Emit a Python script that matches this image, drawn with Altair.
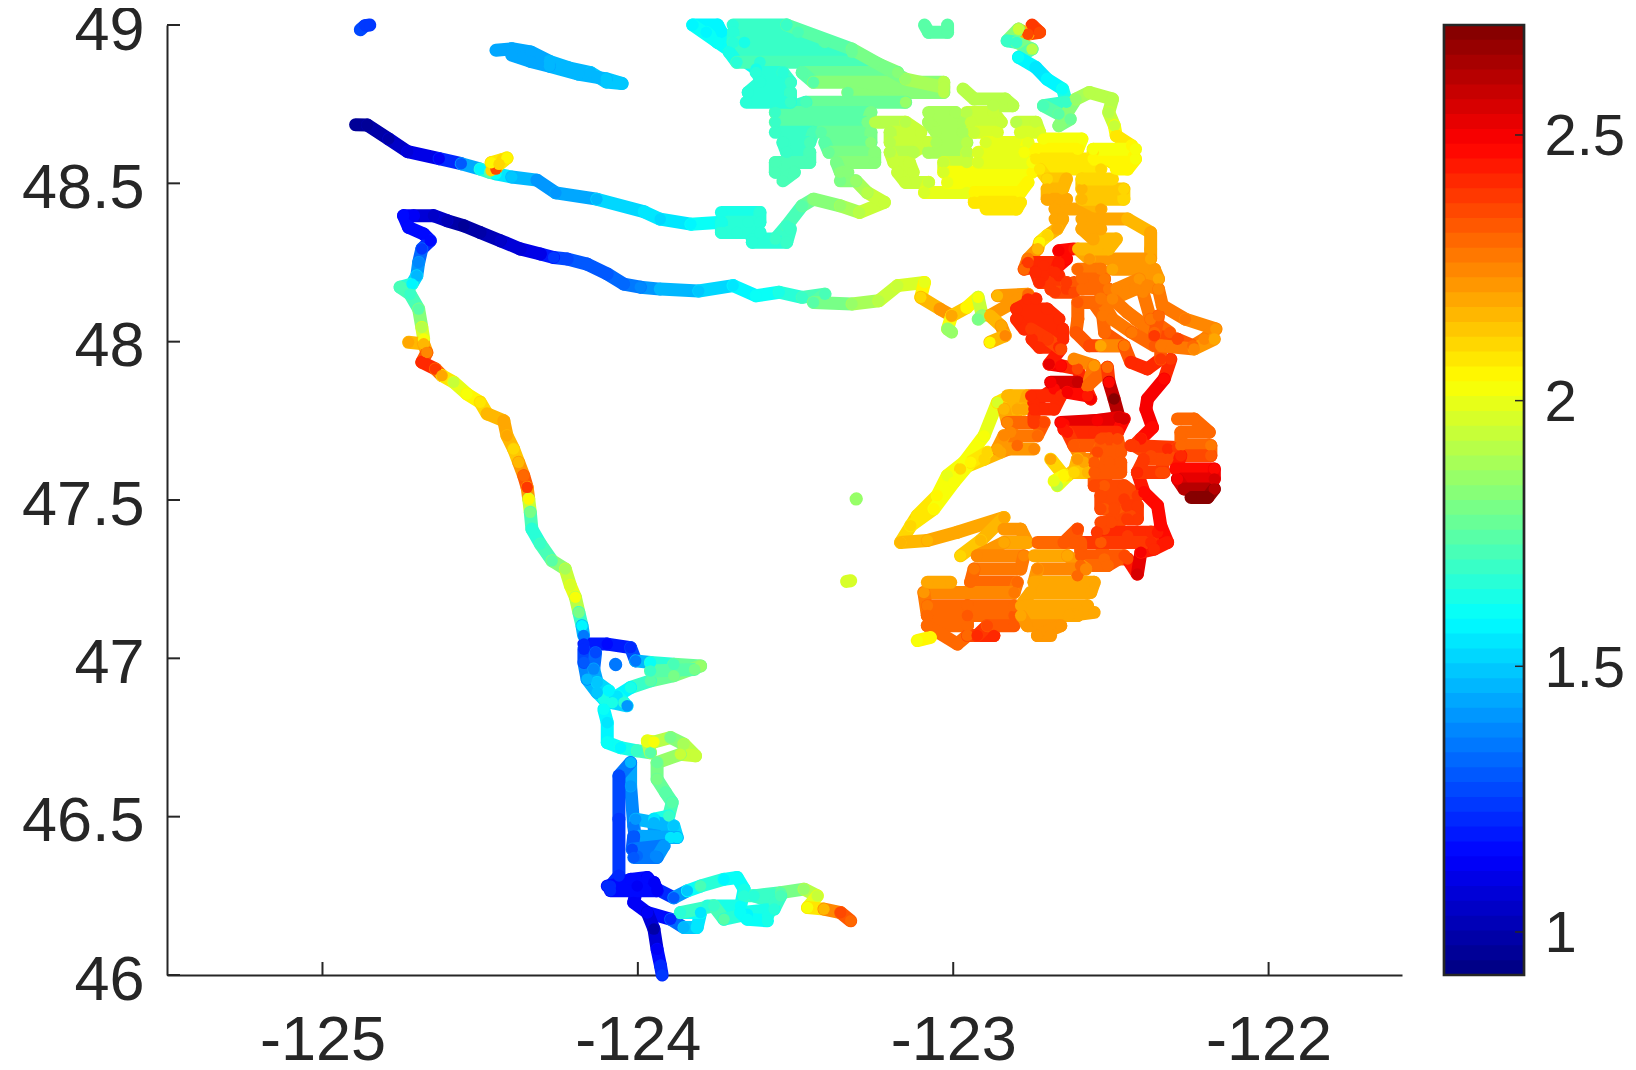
import altair as alt
import pandas as pd

# (longitude, latitude, value)
dot_nw = [(-124.88,48.985,1.27),(-124.865,48.998,1.25),(-124.85,49.0,1.25)]
fraser = [(-124.45,48.92,1.43),(-124.40,48.925,1.44),(-124.34,48.915,1.44),(-124.28,48.885,1.45),(-124.22,48.865,1.45),(-124.15,48.85,1.47),(-124.10,48.82,1.5),(-124.05,48.815,1.5),(-124.10,48.83,1.48),(-124.19,48.845,1.46),(-124.28,48.87,1.45),(-124.34,48.885,1.44),(-124.40,48.905,1.43)]
strait_n = [(-124.895,48.685,0.96),(-124.858,48.684,0.96),(-124.79,48.64,1.0),(-124.73,48.60,1.08),(-124.63,48.578,1.13),(-124.56,48.562,1.3),(-124.50,48.545,1.58),(-124.47,48.535,1.75),(-124.45,48.53,1.6),(-124.40,48.52,1.5),(-124.32,48.51,1.42),(-124.26,48.47,1.42),(-124.13,48.45,1.47),(-123.98,48.41,1.55),(-123.93,48.387,1.56)]
strait_n_blob = [(-124.465,48.54,2.1),(-124.45,48.545,2.35),(-124.465,48.565,2.05),(-124.43,48.575,2.1),(-124.415,48.58,2.05),(-124.44,48.56,2.1)]
strait_n2 = [(-123.929,48.387,1.52),(-123.832,48.371,1.58),(-123.735,48.377,1.62),(-123.686,48.345,1.65),(-123.65,48.377,1.65),(-123.637,48.324,1.66),(-123.564,48.324,1.68),(-123.528,48.366,1.7),(-123.479,48.429,1.75),(-123.443,48.45,1.82),(-123.358,48.429,1.85),(-123.297,48.408,1.9),(-123.218,48.44,1.95),(-123.273,48.471,1.92),(-123.309,48.508,1.85),(-123.358,48.508,1.8)]
strait_n3 = [(-123.735,48.408,1.64),(-123.613,48.408,1.65),(-123.613,48.377,1.66),(-123.735,48.377,1.64),(-123.735,48.345,1.65),(-123.613,48.345,1.66),(-123.637,48.314,1.66),(-123.528,48.314,1.68),(-123.516,48.356,1.7)]
strait_s = [(-123.929,48.166,1.45),(-123.992,48.172,1.38),(-124.045,48.182,1.33),(-124.097,48.214,1.3),(-124.161,48.245,1.3),(-124.224,48.261,1.28),(-124.267,48.266,1.25),(-124.309,48.277,1.1),(-124.373,48.293,1.08),(-124.436,48.319,1.05),(-124.5,48.345,1.0),(-124.552,48.366,0.95),(-124.605,48.382,1.02),(-124.648,48.398,1.05),(-124.711,48.398,1.12),(-124.743,48.398,1.15),(-124.727,48.361,1.15),(-124.679,48.34,1.15),(-124.658,48.319,1.15),(-124.685,48.293,1.25),(-124.695,48.25,1.38),(-124.701,48.208,1.45),(-124.716,48.182,1.58),(-124.754,48.172,1.72),(-124.722,48.15,1.7),(-124.695,48.103,1.75),(-124.685,48.045,1.9),(-124.679,48.008,2.02)]
coast = [(-124.727,47.998,2.18),(-124.679,47.993,2.15),(-124.669,47.966,2.25),(-124.685,47.935,2.42),(-124.642,47.914,2.38),(-124.621,47.893,2.2),(-124.584,47.872,1.95),(-124.542,47.835,2.03),(-124.5,47.809,2.08),(-124.478,47.772,2.15),(-124.425,47.75,2.18),(-124.415,47.703,2.18),(-124.394,47.661,2.12),(-124.378,47.619,2.15),(-124.362,47.577,2.3),(-124.351,47.54,2.38),(-124.346,47.503,2.05),(-124.341,47.461,1.8),(-124.336,47.408,1.65),(-124.309,47.361,1.68),(-124.272,47.308,1.75),(-124.23,47.282,1.88),(-124.214,47.23,1.98),(-124.198,47.193,2.02),(-124.187,47.145,1.8),(-124.177,47.103,1.58),(-124.172,47.072,1.35)]
grays = [(-124.171,47.045,1.22),(-124.097,47.045,1.15),(-124.023,47.034,1.2),(-124.007,46.992,1.35),(-123.96,46.987,1.6),(-123.886,46.981,1.72),(-123.801,46.976,1.85),(-123.886,46.945,1.8),(-123.96,46.929,1.75),(-124.023,46.908,1.62),(-124.066,46.881,1.55),(-124.044,46.86,1.65),(-124.108,46.871,1.62),(-124.129,46.892,1.5),(-124.161,46.934,1.45),(-124.171,46.987,1.3),(-124.171,47.029,1.22)]
grays_beak = [(-123.96,46.96,1.68),(-123.82,46.965,1.8)]
grays_fill = [(-124.134,47.018,1.28),(-124.14,46.966,1.38),(-124.129,46.924,1.48),(-124.092,46.897,1.58),(-124.081,46.86,1.62),(-124.034,46.85,1.4)]
grays_dot = [(-124.071,46.981,1.35),(-124.07,46.98,1.35)]
willapa = [(-124.108,46.839,1.6),(-124.097,46.797,1.55),(-124.097,46.734,1.6),(-124.055,46.718,1.58),(-124.002,46.708,1.7),(-123.96,46.702,1.75),(-123.97,46.739,2.0),(-123.949,46.736,2.02),(-123.896,46.75,1.8),(-123.854,46.729,1.88),(-123.817,46.692,1.95),(-123.865,46.697,1.93),(-123.939,46.671,1.78),(-123.939,46.618,1.8),(-123.912,46.576,1.75),(-123.891,46.545,1.75),(-123.902,46.502,1.7),(-123.949,46.492,1.55),(-123.896,46.434,1.55),(-123.949,46.481,1.45),(-123.944,46.376,1.38),(-124.002,46.376,1.32),(-124.013,46.471,1.35),(-124.023,46.597,1.4),(-124.023,46.671,1.45),(-124.06,46.629,1.28),(-124.06,46.492,1.25),(-124.06,46.313,1.22),(-124.087,46.281,1.2),(-124.023,46.302,1.15),(-123.97,46.308,1.15),(-123.939,46.271,1.12),(-123.886,46.244,1.3),(-123.843,46.266,1.5),(-123.801,46.281,1.72),(-123.727,46.302,1.58),(-123.685,46.308,1.6),(-123.663,46.271,1.62),(-123.674,46.218,1.6),(-123.78,46.218,1.65)]
willapa_fill = [(-124.007,46.492,1.42),(-123.886,46.471,1.5),(-123.875,46.434,1.55),(-124.013,46.439,1.3),(-124.018,46.397,1.28),(-123.917,46.408,1.42),(-123.939,46.371,1.38),(-124.013,46.371,1.3)]
columbia = [(-124.002,46.281,1.12),(-124.013,46.229,1.12),(-123.97,46.197,1.12),(-123.896,46.176,1.2),(-123.854,46.15,1.45),(-123.812,46.15,1.55),(-123.801,46.197,1.55),(-123.865,46.197,1.65),(-123.759,46.218,1.7),(-123.727,46.176,1.75),(-123.653,46.192,1.58),(-123.589,46.187,1.62),(-123.568,46.229,1.7),(-123.632,46.25,1.66),(-123.547,46.26,1.75),(-123.473,46.271,1.85),(-123.431,46.25,1.95),(-123.462,46.213,2.02),(-123.41,46.208,2.15),(-123.357,46.197,2.35),(-123.325,46.171,2.3)]
columbia_fill = [(-124.097,46.281,1.2),(-123.949,46.292,1.12),(-123.939,46.266,1.12),(-124.087,46.266,1.2)]
columbia_fill2 = [(-123.663,46.25,1.65),(-123.547,46.25,1.72),(-123.568,46.208,1.66),(-123.674,46.197,1.6),(-123.653,46.176,1.6),(-123.589,46.171,1.62)]
columbia_mouth = [(-123.97,46.197,1.12),(-123.949,46.145,1.0),(-123.939,46.081,1.12),(-123.928,46.029,1.2),(-123.923,46.0,1.25)]
dots_mid = [(-123.308,47.503,1.85),(-123.307,47.504,1.85)]
dots_mid2 = [(-123.338,47.243,1.98),(-123.325,47.245,1.98)]
top_small = [(-123.091,49.0,1.75),(-123.078,48.977,1.75),(-123.018,48.977,1.75),(-123.018,49.0,1.75)]

georgia_a = [(-123.698,49.0,1.67),(-123.528,49.0,1.7),(-123.492,48.977,1.71),(-123.698,48.977,1.66),(-123.698,48.945,1.66),(-123.407,48.945,1.73),(-123.321,48.914,1.76),(-123.71,48.914,1.64),(-123.686,48.882,1.65),(-123.249,48.882,1.8),(-123.176,48.85,1.84),(-123.479,48.85,1.73),(-123.443,48.819,1.75),(-123.03,48.819,1.9),(-123.03,48.787,1.9),(-123.334,48.787,1.78),(-123.151,48.756,1.86),(-123.467,48.756,1.71),(-123.564,48.724,1.68),(-123.261,48.724,1.79),(-123.273,48.693,1.8),(-123.564,48.693,1.69)]
georgia_edge = [(-123.528,49.0,1.7),(-123.321,48.924,1.76),(-123.151,48.829,1.86),(-123.03,48.803,1.9)]
georgia_edge2 = [(-123.826,49.0,1.58),(-123.625,48.861,1.64),(-123.613,48.829,1.66)]
georgia_b = [(-123.625,48.85,1.65),(-123.54,48.85,1.67),(-123.516,48.819,1.68),(-123.613,48.819,1.66),(-123.65,48.787,1.66),(-123.516,48.787,1.68),(-123.516,48.756,1.68),(-123.656,48.756,1.66)]
georgia_c = [(-123.826,49.0,1.58),(-123.747,49.0,1.58),(-123.735,48.977,1.58),(-123.783,48.977,1.58),(-123.747,48.945,1.6),(-123.662,48.945,1.62),(-123.613,48.882,1.65)]
georgia_d = [(-123.564,48.661,1.69),(-123.443,48.661,1.71),(-123.455,48.629,1.71),(-123.54,48.629,1.69),(-123.528,48.598,1.69),(-123.455,48.598,1.71),(-123.455,48.566,1.71),(-123.564,48.566,1.71),(-123.564,48.535,1.71),(-123.504,48.535,1.71),(-123.54,48.508,1.71)]
georgia_e = [(-123.419,48.661,1.74),(-123.261,48.661,1.8),(-123.261,48.629,1.82),(-123.407,48.629,1.74),(-123.394,48.598,1.77),(-123.249,48.598,1.83),(-123.249,48.566,1.83),(-123.37,48.566,1.8),(-123.358,48.535,1.82),(-123.334,48.535,1.82)]

juan_a = [(-123.249,48.693,1.9),(-123.151,48.693,1.92),(-123.103,48.661,1.93),(-123.2,48.661,1.92),(-123.2,48.629,1.92),(-123.078,48.629,1.93),(-123.127,48.598,1.92),(-123.2,48.598,1.92),(-123.188,48.566,1.93),(-123.139,48.566,1.93),(-123.127,48.535,1.93),(-123.176,48.535,1.93),(-123.151,48.503,1.95),(-123.078,48.503,1.95),(-123.091,48.471,1.98),(-122.957,48.471,2.0)]
juan_b = [(-123.078,48.724,1.88),(-122.993,48.724,1.88),(-122.969,48.693,1.88),(-123.078,48.693,1.87),(-123.054,48.661,1.87),(-122.969,48.661,1.88),(-122.957,48.629,1.9),(-123.054,48.629,1.87),(-123.078,48.598,1.87),(-122.957,48.598,1.9),(-122.957,48.566,1.95),(-123.03,48.566,1.93),(-123.03,48.535,1.98),(-122.75,48.535,2.04),(-122.75,48.566,2.03),(-122.921,48.566,1.98)]
juan_c = [(-122.957,48.724,1.92),(-122.872,48.724,1.93),(-122.848,48.693,1.93),(-122.945,48.693,1.93),(-122.933,48.661,1.95),(-122.86,48.661,1.97)]
juan_d = [(-122.896,48.629,1.98),(-122.763,48.629,2.0),(-122.775,48.598,2.02),(-122.921,48.598,1.97)]
juan_e = [(-122.799,48.693,1.92),(-122.738,48.693,1.93),(-122.726,48.661,1.97),(-122.787,48.661,1.98)]
juan_f = [(-123.018,48.503,2.0),(-122.763,48.503,2.05),(-122.787,48.471,2.06),(-122.933,48.471,2.05),(-122.933,48.44,2.07),(-122.787,48.44,2.07),(-122.799,48.419,2.07),(-122.896,48.419,2.07)]
juan_g = [(-122.969,48.798,1.92),(-122.933,48.766,1.92),(-122.835,48.766,1.92),(-122.811,48.745,1.9),(-122.872,48.745,1.92)]

skagit = [(-122.75,49.0,2.38),(-122.735,48.985,2.38),(-122.726,48.977,2.36),(-122.763,48.971,2.35),(-122.793,48.987,1.95),(-122.829,48.95,1.68),(-122.799,48.945,1.7),(-122.75,48.924,1.9),(-122.793,48.898,1.6),(-122.738,48.866,1.55),(-122.702,48.829,1.57),(-122.653,48.798,1.6),(-122.641,48.756,1.68),(-122.714,48.745,1.72),(-122.665,48.719,1.75),(-122.629,48.703,1.78),(-122.665,48.682,1.82),(-122.611,48.766,1.85),(-122.568,48.787,1.9),(-122.495,48.766,1.92),(-122.507,48.724,1.92),(-122.489,48.682,1.95),(-122.483,48.65,2.08),(-122.434,48.619,2.05),(-122.428,48.587,2.05),(-122.495,48.566,2.05),(-122.556,48.598,2.08)]
bays_a = [(-122.714,48.64,2.02),(-122.592,48.64,2.02),(-122.605,48.608,2.05),(-122.738,48.608,2.04),(-122.738,48.577,2.07),(-122.568,48.577,2.08),(-122.532,48.545,2.1),(-122.726,48.545,2.08),(-122.702,48.514,2.12),(-122.641,48.514,2.15),(-122.653,48.482,2.17),(-122.702,48.482,2.17),(-122.702,48.45,2.18),(-122.641,48.45,2.18),(-122.677,48.419,2.2),(-122.532,48.419,2.2),(-122.592,48.45,2.15),(-122.459,48.45,2.12),(-122.459,48.482,2.12),(-122.592,48.482,2.15),(-122.592,48.514,2.12),(-122.495,48.514,2.1)]
bays_b = [(-122.483,48.545,2.05),(-122.447,48.545,2.05),(-122.422,48.577,2.03),(-122.556,48.577,2.05),(-122.556,48.608,2.03),(-122.422,48.608,2.03)]
bays_c = [(-122.677,48.387,2.2),(-122.653,48.387,2.2),(-122.671,48.356,2.2),(-122.702,48.335,2.1),(-122.726,48.314,2.05),(-122.732,48.293,2.15),(-122.763,48.261,2.27),(-122.775,48.229,2.3),(-122.714,48.24,2.42),(-122.665,48.24,2.45),(-122.641,48.261,2.48),(-122.665,48.287,2.5),(-122.617,48.293,2.45)]
bays_c2 = [(-122.714,48.208,2.4),(-122.665,48.208,2.4),(-122.69,48.166,2.38),(-122.641,48.166,2.38),(-122.617,48.187,2.33)]
bays_c3 = [(-122.763,48.25,2.38),(-122.665,48.25,2.44),(-122.677,48.219,2.42),(-122.738,48.219,2.4),(-122.726,48.187,2.4),(-122.641,48.187,2.38),(-122.617,48.156,2.36),(-122.677,48.156,2.38)]
bays_d = [(-122.592,48.387,2.2),(-122.447,48.387,2.17),(-122.374,48.345,2.18),(-122.374,48.293,2.18),(-122.374,48.261,2.2),(-122.568,48.261,2.22),(-122.605,48.293,2.15),(-122.507,48.293,2.17),(-122.483,48.324,2.17),(-122.556,48.324,2.18),(-122.592,48.356,2.18),(-122.532,48.356,2.18)]
bays_e = [(-122.605,48.229,2.3),(-122.532,48.229,2.27),(-122.52,48.198,2.28),(-122.592,48.198,2.3),(-122.592,48.166,2.3),(-122.507,48.166,2.28),(-122.544,48.124,2.3),(-122.605,48.124,2.32),(-122.605,48.071,2.3),(-122.611,48.029,2.32),(-122.568,47.987,2.35),(-122.459,47.987,2.38),(-122.52,48.029,2.3),(-122.526,48.082,2.28),(-122.556,48.124,2.3)]
bays_f = [(-122.495,48.229,2.2),(-122.362,48.229,2.22),(-122.349,48.198,2.2),(-122.41,48.198,2.22),(-122.483,48.166,2.25),(-122.422,48.166,2.25),(-122.495,48.135,2.25),(-122.447,48.092,2.27),(-122.362,48.029,2.3),(-122.422,48.071,2.27)]
bays_f2 = [(-122.532,48.135,2.27),(-122.495,48.071,2.28),(-122.434,48.029,2.28),(-122.362,47.987,2.33)]
bays_f3 = [(-122.398,48.156,2.25),(-122.374,48.071,2.28),(-122.313,48.029,2.32)]
bays_g = [(-122.386,48.177,2.25),(-122.349,48.166,2.25),(-122.337,48.114,2.27),(-122.264,48.071,2.28),(-122.167,48.04,2.22),(-122.204,48.008,2.25),(-122.24,47.987,2.3),(-122.289,48.008,2.35),(-122.362,48.019,2.38),(-122.349,48.082,2.3)]

sound_w = [(-123.929,48.166,1.45),(-123.807,48.16,1.5),(-123.698,48.177,1.56),(-123.625,48.145,1.6),(-123.552,48.156,1.63),(-123.479,48.14,1.7),(-123.407,48.15,1.72),(-123.443,48.124,1.75),(-123.321,48.119,1.85),(-123.236,48.129,1.9),(-123.176,48.177,1.95),(-123.091,48.187,2.0),(-123.103,48.14,2.1),(-123.042,48.103,2.22),(-123.005,48.082,2.2),(-123.018,48.04,1.85),(-123.005,48.03,1.85)]
sound_w2 = [(-123.005,48.082,2.2),(-122.957,48.108,2.05),(-122.921,48.14,2.03),(-122.908,48.082,1.85),(-122.921,48.071,1.8)]
sound_w3 = [(-122.86,48.145,2.15),(-122.763,48.15,2.3),(-122.884,48.082,2.15),(-122.848,48.05,2.2),(-122.835,48.019,2.25),(-122.884,47.998,2.05)]
sound_red = [(-122.763,48.135,2.4),(-122.738,48.135,2.42),(-122.799,48.103,2.4),(-122.702,48.103,2.42),(-122.665,48.071,2.42),(-122.799,48.071,2.4),(-122.775,48.04,2.42),(-122.653,48.04,2.42),(-122.653,48.008,2.42),(-122.75,48.008,2.42),(-122.726,47.982,2.42),(-122.665,47.982,2.42)]

hood = [(-123.167,47.366,2.12),(-123.114,47.451,2.08),(-123.051,47.514,2.05),(-123.019,47.577,2.0),(-122.966,47.619,2.02),(-122.902,47.703,2.02),(-122.86,47.808,1.98),(-122.818,47.829,2.15),(-122.797,47.787,2.2),(-122.818,47.714,2.25),(-122.797,47.672,2.3),(-122.85,47.651,2.2),(-122.902,47.629,2.1),(-122.977,47.598,2.1)]
hood2 = [(-123.135,47.419,2.1),(-123.061,47.472,2.05),(-122.998,47.556,2.02),(-122.945,47.619,2.05),(-122.892,47.651,2.1)]
hood_fill = [(-122.828,47.829,2.15),(-122.765,47.829,2.2),(-122.776,47.787,2.2),(-122.839,47.787,2.15),(-122.828,47.745,2.25),(-122.712,47.745,2.35),(-122.733,47.703,2.3),(-122.839,47.703,2.25),(-122.86,47.661,2.18),(-122.744,47.661,2.25)]
hood_red = [(-122.744,47.745,2.38),(-122.744,47.808,2.4),(-122.68,47.851,2.47),(-122.617,47.872,2.55),(-122.564,47.819,2.5),(-122.606,47.914,2.35),(-122.659,47.924,2.47),(-122.696,47.929,2.52),(-122.659,47.977,2.35),(-122.701,48.008,2.38),(-122.754,48.04,2.38)]
hood_red2 = [(-122.754,47.829,2.42),(-122.659,47.829,2.42),(-122.68,47.787,2.42),(-122.744,47.787,2.42)]
hood_red3 = [(-122.691,47.872,2.5),(-122.606,47.872,2.58),(-122.638,47.84,2.5),(-122.574,47.829,2.45)]
kitsap = [(-122.617,47.945,2.25),(-122.553,47.924,2.22),(-122.574,47.861,2.3),(-122.511,47.919,2.3),(-122.506,47.872,2.48),(-122.49,47.819,2.68),(-122.474,47.761,2.55),(-122.543,47.751,2.5),(-122.649,47.74,2.48),(-122.649,47.724,2.45),(-122.553,47.714,2.42),(-122.617,47.672,2.3),(-122.585,47.619,2.2),(-122.638,47.577,2.08),(-122.67,47.545,1.92)]
kitsap2 = [(-122.691,47.629,2.18),(-122.649,47.577,2.05),(-122.68,47.56,2.0)]
kitsap_fill = [(-122.659,47.745,2.48),(-122.458,47.756,2.55),(-122.479,47.714,2.4),(-122.638,47.714,2.45),(-122.617,47.672,2.33),(-122.532,47.672,2.33),(-122.553,47.629,2.25),(-122.606,47.629,2.22),(-122.617,47.587,2.12),(-122.574,47.587,2.15)]
main_ch = [(-122.506,47.693,2.35),(-122.506,47.619,2.32),(-122.521,47.545,2.33),(-122.458,47.503,2.38),(-122.521,47.472,2.33),(-122.437,47.451,2.35),(-122.521,47.408,2.35),(-122.447,47.387,2.38),(-122.373,47.398,2.42),(-122.532,47.366,2.32),(-122.521,47.314,2.3),(-122.447,47.314,2.35),(-122.416,47.266,2.55),(-122.405,47.335,2.5),(-122.363,47.345,2.4)]
main_fill = [(-122.532,47.693,2.35),(-122.479,47.693,2.35),(-122.469,47.651,2.33),(-122.543,47.651,2.35),(-122.553,47.619,2.33),(-122.469,47.619,2.33),(-122.469,47.587,2.33),(-122.553,47.587,2.33),(-122.553,47.545,2.35),(-122.458,47.545,2.35),(-122.416,47.514,2.38),(-122.532,47.514,2.35),(-122.532,47.472,2.35),(-122.49,47.472,2.35),(-122.5,47.429,2.35),(-122.532,47.429,2.35)]
main_fill2 = [(-122.447,47.482,2.38),(-122.416,47.482,2.38),(-122.416,47.44,2.38),(-122.447,47.44,2.38)]
main_fill3 = [(-122.543,47.398,2.38),(-122.352,47.398,2.43),(-122.373,47.366,2.42),(-122.596,47.366,2.33),(-122.596,47.324,2.33),(-122.458,47.324,2.35),(-122.511,47.293,2.3),(-122.596,47.293,2.3),(-122.606,47.261,2.3)]
east_ch = [(-122.31,47.945,2.38),(-122.331,47.882,2.47),(-122.384,47.819,2.5),(-122.389,47.787,2.5),(-122.368,47.729,2.48),(-122.405,47.693,2.45),(-122.426,47.672,2.38),(-122.373,47.64,2.35),(-122.32,47.661,2.4),(-122.342,47.587,2.35),(-122.416,47.587,2.42),(-122.395,47.524,2.48),(-122.352,47.482,2.48),(-122.342,47.419,2.48),(-122.32,47.366,2.45),(-122.363,47.345,2.42)]
east_fill = [(-122.437,47.672,2.38),(-122.289,47.666,2.38),(-122.32,47.629,2.35),(-122.395,47.629,2.38),(-122.416,47.587,2.4),(-122.331,47.587,2.35)]
east_top = [(-122.532,47.987,2.2),(-122.458,47.987,2.28),(-122.437,47.935,2.4),(-122.384,47.914,2.42),(-122.342,47.945,2.38),(-122.342,47.987,2.28),(-122.236,47.977,2.25),(-122.172,48.008,2.2)]
seattle = [(-122.289,47.756,2.3),(-122.236,47.756,2.3),(-122.188,47.714,2.3),(-122.278,47.714,2.3),(-122.278,47.672,2.3),(-122.183,47.672,2.28),(-122.183,47.64,2.32),(-122.278,47.64,2.4),(-122.294,47.598,2.47),(-122.172,47.598,2.47),(-122.172,47.566,2.55),(-122.289,47.566,2.5),(-122.268,47.535,2.62),(-122.172,47.535,2.62),(-122.193,47.508,2.7),(-122.246,47.508,2.7)]
south_a = [(-123.167,47.366,2.15),(-123.082,47.372,2.17),(-122.987,47.398,2.2),(-122.839,47.445,2.2),(-122.913,47.372,2.15),(-122.977,47.324,2.1)]
south_b = [(-122.839,47.408,2.22),(-122.786,47.408,2.22),(-122.765,47.366,2.2),(-122.839,47.366,2.2),(-122.924,47.324,2.25),(-122.776,47.324,2.25),(-122.786,47.282,2.28),(-122.934,47.282,2.28),(-122.945,47.24,2.3),(-122.797,47.24,2.3),(-122.807,47.208,2.27),(-123.093,47.208,2.22),(-123.082,47.135,2.3),(-122.807,47.135,2.32),(-122.807,47.166,2.3),(-122.955,47.166,2.3),(-122.955,47.103,2.3),(-123.082,47.103,2.3),(-122.987,47.045,2.3),(-122.955,47.072,2.3),(-122.871,47.072,2.4),(-122.924,47.072,2.4),(-122.892,47.103,2.35),(-122.807,47.103,2.32)]
south_b2 = [(-123.082,47.166,2.28),(-122.955,47.166,2.3),(-122.955,47.135,2.32),(-123.082,47.135,2.3)]
south_c = [(-123.082,47.24,2.18),(-123.008,47.24,2.2)]
south_d = [(-122.744,47.324,2.2),(-122.638,47.324,2.2),(-122.58,47.282,2.25),(-122.733,47.282,2.25),(-122.744,47.24,2.2),(-122.553,47.24,2.2),(-122.564,47.208,2.18),(-122.754,47.208,2.18),(-122.786,47.166,2.2),(-122.574,47.166,2.2),(-122.606,47.135,2.2),(-122.786,47.135,2.2),(-122.765,47.103,2.22),(-122.659,47.103,2.22),(-122.733,47.072,2.22),(-122.691,47.072,2.22)]
south_e = [(-122.633,47.135,2.2),(-122.553,47.145,2.2)]
south_f = [(-122.733,47.366,2.3),(-122.617,47.366,2.32),(-122.606,47.408,2.35),(-122.649,47.366,2.33)]
south_h = [(-123.114,47.056,2.03),(-123.072,47.066,2.05)]

TRACES = [dot_nw, fraser, strait_n, strait_n_blob, strait_n2, strait_n3, strait_s, coast, grays, grays_beak, grays_fill, grays_dot, willapa, willapa_fill, columbia, columbia_fill, columbia_fill2, columbia_mouth, dots_mid, dots_mid2, top_small, georgia_c, georgia_edge2, georgia_a, georgia_edge, georgia_b, georgia_d, georgia_e, juan_a, juan_b, juan_c, juan_d, juan_e, juan_f, juan_g, skagit, bays_a, bays_b, bays_c, bays_c2, bays_c3, bays_d, bays_e, bays_f, bays_f2, bays_f3, bays_g, sound_w, sound_w2, sound_w3, sound_red, hood, hood2, hood_fill, hood_red, hood_red2, hood_red3, kitsap, kitsap2, kitsap_fill, main_ch, main_fill, main_fill2, main_fill3, east_ch, east_fill, east_top, seattle, south_a, south_b, south_b2, south_c, south_d, south_e, south_f, south_h]

x_ticks = [-125, -124, -123, -122]
y_ticks = [46, 46.5, 47, 47.5, 48, 48.5, 49]
cbar_ticks = [1, 1.5, 2, 2.5]
x_domain = [-125.493, -121.577]
y_domain = [46, 49]
cbar_domain = [0.919, 2.707]
N_LEVELS = 64

def jet(i, n):
    t = (i + 0.5) / n
    r = min(1, max(0, min(4 * t - 1.5, -4 * t + 4.5)))
    g = min(1, max(0, min(4 * t - 0.5, -4 * t + 3.5)))
    b = min(1, max(0, min(4 * t + 0.5, -4 * t + 2.5)))
    return "#%02x%02x%02x" % (round(r * 255), round(g * 255), round(b * 255))

palette = [jet(i, N_LEVELS) for i in range(N_LEVELS)]
INK = "#262626"
FONT = "Liberation Sans"

segments, points = [], []
for k, trace in enumerate(TRACES):
    for j, (lon, lat, val) in enumerate(trace):
        points.append({"lon": lon, "lat": lat, "val": val})
        if j:
            p = trace[j - 1]
            segments.append({"lon": p[0], "lat": p[1], "lon2": lon, "lat2": lat,
                             "val": (p[2] + val) / 2})
seg_df = pd.DataFrame(segments)
pt_df = pd.DataFrame(points)

W, H = 1235, 950
CW = 80
x_scale = alt.Scale(domain=x_domain, nice=False, zero=False)
y_scale = alt.Scale(domain=y_domain, nice=False, zero=False)
c_scale = alt.Scale(type="quantize", domain=cbar_domain, range=palette)
bar_scale = alt.Scale(domain=cbar_domain, nice=False, zero=False)

x_axis = alt.Axis(values=x_ticks, title=None, ticks=False, grid=False, domainColor=INK, domainWidth=2,
                  labelFont=FONT, labelFontSize=63, labelColor=INK, labelPadding=34,
                  labelExpr="'' + datum.value", labelOverlap=False, labelFlush=False)
y_axis = alt.Axis(values=y_ticks, title=None, ticks=False, grid=False, domainColor=INK, domainWidth=2,
                  labelFont=FONT, labelFontSize=63, labelColor=INK, labelPadding=23, labelOffset=5,
                  labelExpr="'' + datum.value", labelOverlap=False, labelFlush=False)

seg_layer = alt.Chart(seg_df).mark_rule(strokeWidth=13, strokeCap="round").encode(
    x=alt.X("lon:Q", scale=x_scale, axis=x_axis),
    y=alt.Y("lat:Q", scale=y_scale, axis=y_axis),
    x2="lon2:Q", y2="lat2:Q",
    color=alt.Color("val:Q", scale=c_scale, legend=None),
)
pt_layer = alt.Chart(pt_df).mark_circle(size=133, opacity=1).encode(
    x=alt.X("lon:Q", scale=x_scale, axis=x_axis),
    y=alt.Y("lat:Q", scale=y_scale, axis=y_axis),
    color=alt.Color("val:Q", scale=c_scale, legend=None),
)
xtick_layer = alt.Chart(pd.DataFrame({"t": x_ticks})).mark_rule(color=INK, strokeWidth=2).encode(
    x=alt.X("t:Q", scale=x_scale, axis=x_axis), y=alt.value(H), y2=alt.value(H - 13))
ytick_layer = alt.Chart(pd.DataFrame({"t": y_ticks})).mark_rule(color=INK, strokeWidth=2).encode(
    y=alt.Y("t:Q", scale=y_scale, axis=y_axis), x=alt.value(0), x2=alt.value(13))

main = alt.layer(seg_layer, pt_layer, xtick_layer, ytick_layer).properties(
    width=W, height=H, view=alt.ViewConfig(stroke=None))

span = (cbar_domain[1] - cbar_domain[0]) / N_LEVELS
bar_df = pd.DataFrame({
    "lo": [cbar_domain[0] + i * span for i in range(N_LEVELS)],
    "hi": [min(cbar_domain[1], cbar_domain[0] + (i + 1.4) * span) for i in range(N_LEVELS)],
    "mid": [cbar_domain[0] + (i + 0.5) * span for i in range(N_LEVELS)],
})
bar_axis = alt.Axis(values=cbar_ticks, title=None, ticks=False, domain=False, grid=False, orient="right",
                    labelFont=FONT, labelFontSize=58, labelColor=INK, labelPadding=20, labelOffset=3,
                    labelExpr="'' + datum.value", labelOverlap=False, labelFlush=False)
bar_cells = alt.Chart(bar_df).mark_rect(stroke=None).encode(
    y=alt.Y("lo:Q", scale=bar_scale, axis=bar_axis), y2="hi:Q",
    x=alt.value(0), x2=alt.value(CW),
    color=alt.Color("mid:Q", scale=c_scale, legend=None),
)
bar_frame = alt.Chart(pd.DataFrame({"a": [0]})).mark_rect(fillOpacity=0, stroke=INK, strokeWidth=2.7).encode(
    x=alt.value(0), x2=alt.value(CW), y=alt.value(0), y2=alt.value(H))
bar_ticks = alt.Chart(pd.DataFrame({"t": cbar_ticks})).mark_rule(color=INK, strokeWidth=1.5).encode(
    y=alt.Y("t:Q", scale=bar_scale, axis=bar_axis), x=alt.value(CW - 9), x2=alt.value(CW))
colorbar = alt.layer(bar_cells, bar_frame, bar_ticks).properties(
    width=CW, height=H, view=alt.ViewConfig(stroke=None))

chart = alt.hconcat(main, colorbar, spacing=40).resolve_scale(color="shared").properties(
    padding={"left": 13, "top": -9, "right": 0, "bottom": 20},
    background="white",
).configure_view(stroke=None)

chart.save("out.html", embed_options={"renderer": "svg", "actions": False})
